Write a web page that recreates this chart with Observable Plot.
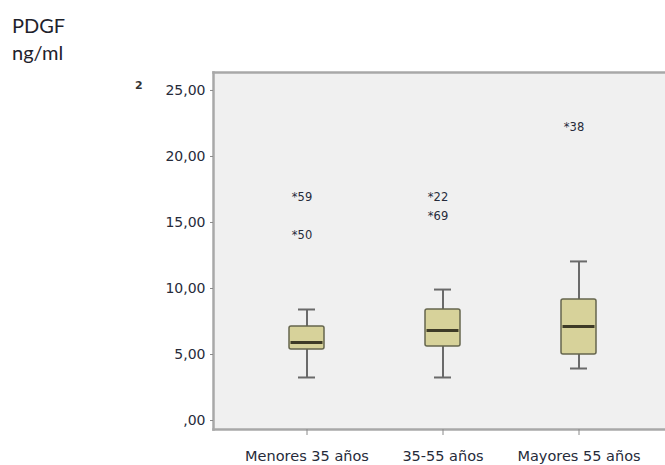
<!DOCTYPE html>
<html>
<head>
<meta charset="utf-8">
<script src="https://cdn.jsdelivr.net/npm/d3@7"></script>
<script src="https://cdn.jsdelivr.net/npm/@observablehq/plot@0.6"></script>
<style>
  html, body { margin: 0; padding: 0; background: #fff; overflow: hidden; width: 665px; height: 465px; }
  #wrap { position: relative; width: 665px; height: 465px; overflow: hidden; }
  #title { position: absolute; left: 12px; top: 12px; font-family: Lato, "Open Sans", sans-serif; font-size: 20px; line-height: 27px; color: #1e222c; }
  #stray { position: absolute; left: 135px; top: 79px; font-family: "DejaVu Sans", sans-serif; font-size: 11px; font-weight: bold; color: #333; }
  #chart { position: absolute; left: 0; top: 0; width: 700px; }
  #chart svg { max-width: none !important; }
</style>
</head>
<body>
<div id="wrap">
  <div id="chart"></div>
  <div id="title">PDGF<br>ng/ml</div>
  <div id="stray">2</div>
</div>
<script>
// Age groups and PDGF (ng/ml) box-plot summaries
const groups = ["Menores 35 años", "35-55 años", "Mayores 55 años"];
const whiskerLow = [3.26, 3.26, 3.94];
const q1 = [5.38, 5.61, 5.00];
const median = [5.91, 6.82, 7.12];
const q3 = [7.12, 8.41, 9.17];
const whiskerHigh = [8.41, 9.92, 12.05];

// Extreme cases, labelled by case number
const outlierGroup = ["Menores 35 años", "Menores 35 años", "35-55 años", "35-55 años", "Mayores 55 años"];
const outlierValue = [16.9, 14.0, 16.9, 15.5, 22.2];
const outlierCase = ["59", "50", "22", "69", "38"];

const yTicks = [0, 5, 10, 15, 20, 25];

const boxes = groups.map((g, i) => ({
  group: g, lo: whiskerLow[i], q1: q1[i], med: median[i], q3: q3[i], hi: whiskerHigh[i]
}));
const outliers = outlierGroup.map((g, i) => ({ group: g, value: outlierValue[i], label: "*" + outlierCase[i] }));

const fmt = d => d === 0 ? ",00" : d.toFixed(2).replace(".", ",");
const border = { stroke: "#a8a8a8", strokeWidth: 2.5 };

// The plotting panel runs past the right edge of the page: only its
// left, top and bottom borders are drawn
const plot = Plot.plot({
  width: 690,
  height: 465,
  marginLeft: 213,
  marginRight: 0,
  marginTop: 72,
  marginBottom: 36,
  style: { fontFamily: "DejaVu Sans, sans-serif", fontSize: "14px", color: "#262b3a", background: "transparent", maxWidth: "none" },
  x: { domain: groups, paddingInner: 0.744, paddingOuter: 0.62, align: 0.4465, label: null },
  y: { domain: [-0.68, 26.36], label: null },
  marks: [
    Plot.frame({ fill: "#f0f0f0" }),
    Plot.frame({ anchor: "left", ...border }),
    Plot.frame({ anchor: "top", ...border }),
    Plot.frame({ anchor: "bottom", ...border }),
    Plot.axisY({ ticks: yTicks, tickFormat: fmt, tickSize: 3, tickPadding: 5, stroke: "#8a8a8a", fontSize: 14 }),
    Plot.axisX({ tickSize: 6, tickPadding: 15, stroke: "#8a8a8a", fontSize: 14.5 }),
    // whiskers
    Plot.ruleX(boxes, { x: "group", y1: "lo", y2: "q1", stroke: "#6a6a6a", strokeWidth: 2 }),
    Plot.ruleX(boxes, { x: "group", y1: "q3", y2: "hi", stroke: "#6a6a6a", strokeWidth: 2 }),
    Plot.tickY(boxes, { x: "group", y: "lo", stroke: "#6a6a6a", strokeWidth: 2, insetLeft: 9, insetRight: 9 }),
    Plot.tickY(boxes, { x: "group", y: "hi", stroke: "#6a6a6a", strokeWidth: 2, insetLeft: 9, insetRight: 9 }),
    // interquartile boxes
    Plot.barY(boxes, { x: "group", y1: "q1", y2: "q3", fill: "#d7d29a", stroke: "#66664e", strokeWidth: 1.5, rx: 2 }),
    // medians
    Plot.tickY(boxes, { x: "group", y: "med", stroke: "#3e3b27", strokeWidth: 3, insetLeft: 1.5, insetRight: 1.5 }),
    // extreme values
    Plot.text(outliers, { x: "group", y: "value", text: "label", dx: -5, fontSize: 11.5, fill: "#262b3a" })
  ]
});
document.getElementById("chart").appendChild(plot);
</script>
</body>
</html>
